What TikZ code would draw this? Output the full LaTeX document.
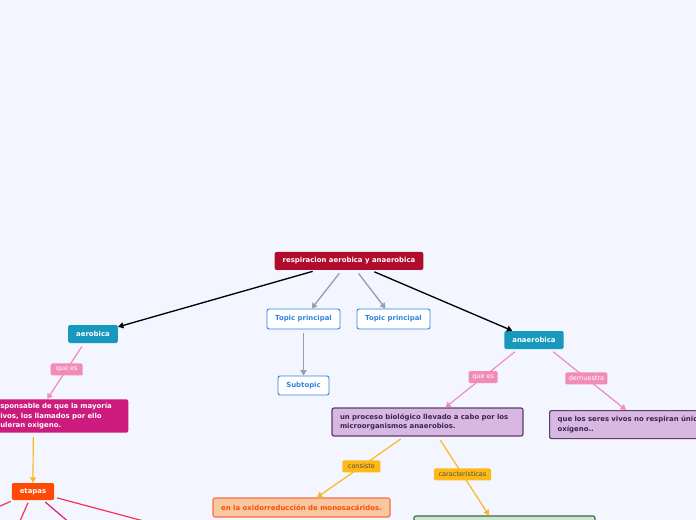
\documentclass[tikz,border=0pt]{standalone}
\usepackage{fontspec}
\setmainfont{DejaVu Sans}
\usetikzlibrary{arrows.meta}

\definecolor{bgblue}{HTML}{F3F6FE}
\definecolor{rootred}{HTML}{B20C2C}
\definecolor{topicblue}{HTML}{2E84E2}
\definecolor{tealbox}{HTML}{1799BD}
\definecolor{pinkline}{HTML}{F08CB6}
\definecolor{magentabox}{HTML}{CC1A7D}
\definecolor{amberline}{HTML}{F9B824}
\definecolor{amberlbl}{HTML}{FFB916}
\definecolor{etapasred}{HTML}{FF4A05}
\definecolor{redline}{HTML}{F23450}
\definecolor{crimsonline}{HTML}{D62466}
\definecolor{lilacfill}{HTML}{D8B7E1}
\definecolor{lilacdraw}{HTML}{5E3C70}
\definecolor{lilactext}{HTML}{3C2452}
\definecolor{peachfill}{HTML}{F7C7A0}
\definecolor{peachdraw}{HTML}{FF6B45}
\definecolor{greenfill}{HTML}{CAE7CC}
\definecolor{greendraw}{HTML}{44604A}
\definecolor{arrowgray}{HTML}{999EA8}

\tikzset{
  mapbox/.style={rounded corners=1.5pt, inner xsep=6pt, inner ysep=3pt, minimum height=13.5pt,
    font=\fontsize{5.2}{7.4}\selectfont\bfseries, align=left},
  topicbox/.style={mapbox, fill=white, draw=topicblue, line width=0.7pt, text=topicblue, minimum height=15pt},
  tealnode/.style={mapbox, fill=tealbox, text=white},
  lilacbox/.style={mapbox, fill=lilacfill, draw=lilacdraw, line width=0.9pt, text=lilactext},
  pinklbl/.style={fill=pinkline, text=white, rounded corners=1pt, inner sep=0pt, minimum height=9pt,
    font=\fontsize{4.9}{5.4}\selectfont},
  amberlbl/.style={pinklbl, fill=amberlbl, text=black!70},
  blackarrow/.style={draw=black, line width=1pt, -{Triangle[length=4pt,width=4.5pt]}, shorten <=3pt},
  grayarrow/.style={blackarrow, draw=arrowgray, fill=arrowgray},
  pinkarrow/.style={blackarrow, draw=pinkline, line width=0.9pt},
  amberarrow/.style={blackarrow, draw=amberline, line width=0.9pt},
  redstroke/.style={draw=redline, line width=0.9pt, shorten <=2pt}
}

\begin{document}
\begin{tikzpicture}[x=0.75pt,y=0.75pt,yscale=-1,xscale=1]
\useasboundingbox (0,0) rectangle (696,520);
\fill[bgblue] (0,0) rectangle (696,520);
\clip (0,0) rectangle (696,520);

% Main topic
\node[mapbox, fill=rootred, text=white, minimum width=111pt] (root) at (349,261) {respiracion aerobica y anaerobica};

% Topics
\node[topicbox, minimum width=54.75pt] (topicA) at (303.5,319) {Topic principal};
\node[topicbox, minimum width=54.75pt] (topicB) at (393.5,319) {Topic principal};
\node[topicbox, minimum width=38.25pt, minimum height=14.25pt] (subtopic) at (303.5,385.5) {Subtopic};
\node[tealnode, minimum width=36pt] (aerobica) at (93,334) {aerobica};
\node[tealnode, minimum width=43.5pt] (anaerobica) at (534,340) {anaerobica};

% Aerobica branch
\node[mapbox, anchor=north west, fill=magentabox, text=white, text width=90pt, font=\fontsize{5.2}{6.9}\selectfont\bfseries] (magbox) at (-8,399)
  {sponsable de que la mayoría\\ivos, los llamados por ello\\uleran oxigeno.};
\node[mapbox, fill=etapasred, text=white, minimum width=30pt, minimum height=12.75pt] (etapas) at (33,491.5) {etapas};

% Anaerobica branch
\node[lilacbox, text width=131.25pt, minimum height=21pt] (procA) at (427.5,422) {un proceso biológico llevado a cabo por los\\microorganismos anaerobios.};
\node[lilacbox, anchor=north west, text width=150pt, minimum height=21pt] (procB) at (549,410) {que los seres vivos no respiran únicamente\\oxígeno..};
\node[mapbox, fill=peachfill, draw=peachdraw, line width=0.8pt, text=etapasred, minimum width=132.75pt, minimum height=14.25pt] (oxid) at (301.5,507.5) {en la oxidorreducción de monosacáridos.};
\node[mapbox, fill=greenfill, draw=greendraw, line width=0.8pt, minimum width=135.75pt, minimum height=22.5pt] (greenbox) at (504.5,531) {};

% Free ends of the etapas lines
\coordinate (etA) at (-20,515);
\coordinate (etB) at (16,530);
\coordinate (etC) at (78,530);
\coordinate (etD) at (170,528);

% Connectors
\draw[blackarrow] (root) -- (aerobica);
\draw[blackarrow] (root) -- (anaerobica);
\draw[grayarrow] (root) -- (topicA);
\draw[grayarrow] (root) -- (topicB);
\draw[grayarrow] (topicA) -- (subtopic);
\draw[pinkarrow] ([xshift=-6.75pt]aerobica.south) -- node[pinklbl, minimum width=24pt, pos=0.47] (queesA) {que es} ([xshift=-9.75pt]magbox.north);
\draw[amberarrow] ([xshift=-20.25pt]magbox.south) -- (etapas.north);
\draw[pinkarrow] ([xshift=-12pt]anaerobica.south) -- node[pinklbl, minimum width=21.75pt, pos=0.48] (queesB) {que es} ([xshift=85.5pt]procA.north west);
\draw[pinkarrow] ([xshift=12pt]anaerobica.south) -- node[pinklbl, minimum width=31.5pt, pos=0.48] (demuestra) {demuestra} ([xshift=57.75pt]procB.north west);
\draw[amberarrow] ([xshift=-17.6pt]procA.south) -- node[amberlbl, minimum width=28.5pt, pos=0.49] (consiste) {consiste} ([xshift=11.6pt]oxid.north);
\draw[amberarrow] ([xshift=7.9pt]procA.south) -- node[amberlbl, minimum width=42.75pt, pos=0.48] (caract) {caracteristicas} ([xshift=-11.6pt]greenbox.north);
\draw[redstroke] (etapas) -- (etA);
\draw[redstroke] (etapas) -- (etB);
\draw[redstroke, draw=crimsonline] (etapas) -- (etC);
\draw[redstroke] (etapas) -- (etD);
\end{tikzpicture}
\end{document}
